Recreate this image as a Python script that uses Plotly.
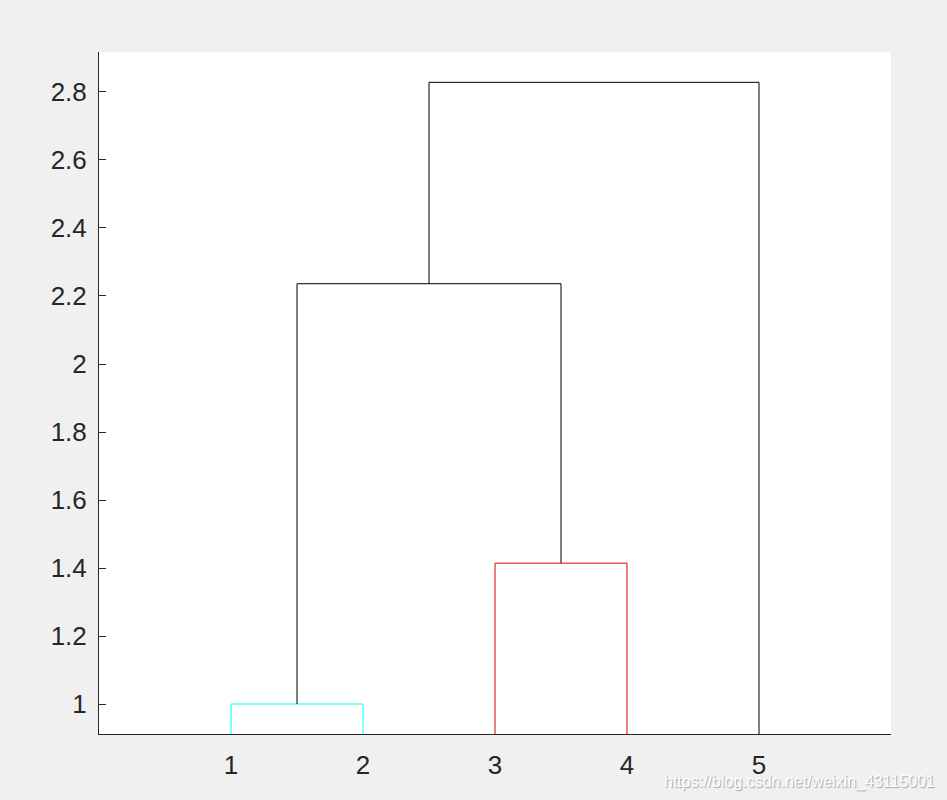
import plotly.graph_objects as go

# dendrogram data (leaf order 1..5)
leaf_labels = ["1", "2", "3", "4", "5"]
leaf_pos = [1, 2, 3, 4, 5]
merge_left_x = [1, 3, 1.5, 2.5]
merge_right_x = [2, 4, 3.5, 5]
merge_left_base = [0, 0, 1.0, 2.2361]
merge_right_base = [0, 0, 1.4142, 0]
merge_height = [1.0, 1.4142, 2.2361, 2.8284]
merge_color = ["#00ffff", "#e00000", "#000000", "#000000"]

y_ticks = [1, 1.2, 1.4, 1.6, 1.8, 2, 2.2, 2.4, 2.6, 2.8]

fig = go.Figure()
for i in range(len(merge_height)):
    xl, xr, h = merge_left_x[i], merge_right_x[i], merge_height[i]
    fig.add_trace(go.Scatter(
        x=[xl, xl, xr, xr],
        y=[merge_left_base[i], h, h, merge_right_base[i]],
        mode='lines',
        line=dict(color=merge_color[i], width=1),
        showlegend=False,
        hoverinfo='skip'))

fig.update_layout(
    width=947, height=800,
    paper_bgcolor='#f0f0f0',
    plot_bgcolor='#ffffff',
    margin=dict(l=99, r=56, t=52, b=66),
    font=dict(family='Liberation Sans, Arial, sans-serif', size=26, color='#262626'),
    xaxis=dict(range=[0, 6], tickvals=leaf_pos, ticktext=leaf_labels,
               showgrid=False, zeroline=False, showline=True, linecolor='#262626',
               linewidth=1, ticks='', mirror=False, fixedrange=True,
               ticklabelstandoff=8),
    yaxis=dict(range=[0.9118, 2.9176], tickvals=y_ticks,
               showgrid=False, zeroline=False, showline=True, linecolor='#262626',
               linewidth=1, ticks='inside', ticklen=7, tickcolor='#262626',
               fixedrange=True, ticklabelstandoff=6),
    annotations=[dict(text="https://blog.csdn.net/weixin_43115001",
                      xref='paper', yref='paper', x=1.058, y=-0.071,
                      xanchor='right', yanchor='middle', showarrow=False,
                      font=dict(size=16, color='#ffffff',
                                shadow='1px 1px 1px #a0a0a0'))],
)

fig.write_html("out.html", config={'displayModeBar': False},
               post_script="document.body.style.margin='0';"
                           "document.body.style.background='#f0f0f0';")
